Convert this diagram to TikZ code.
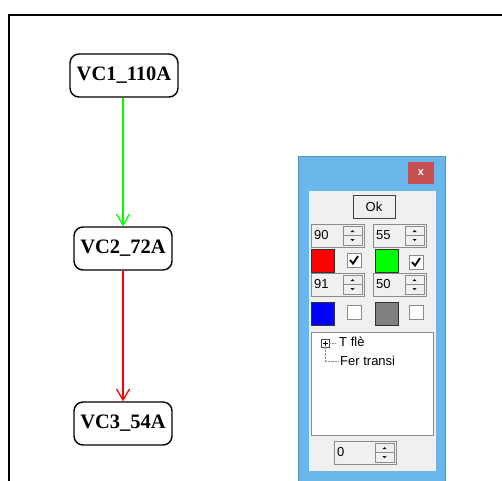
\documentclass[tikz,border=0pt]{standalone}
\usepackage{fontspec}
\usepackage{tikz}
\usetikzlibrary{arrows.meta}
\setmainfont{Liberation Serif}
\newfontfamily\uifont{Liberation Sans}
\definecolor{panelblue}{RGB}{105, 183, 235}
\definecolor{closered}{RGB}{199, 80, 80}
\definecolor{panelgray}{RGB}{240, 240, 240}
\definecolor{edgegray}{RGB}{140, 140, 140}
\definecolor{puregreen}{RGB}{0, 255, 0}
\definecolor{purered}{RGB}{255, 0, 0}
\definecolor{pureblue}{RGB}{0, 0, 255}
\definecolor{midgray}{RGB}{128, 128, 128}

\begin{document}
\begin{tikzpicture}[x=1pt, y=-1pt,
	state/.style={draw, line width=1.4pt, rounded corners=9pt, minimum height=43pt, font=\fontsize{20.5}{24}\selectfont\bfseries},
	trans/.style={-{Straight Barb[length=11pt, width=13pt]}, line width=1.3pt},
	uitext/.style={font=\uifont\fontsize{13}{15}\selectfont, inner sep=0pt}]
	\useasboundingbox (0,0) rectangle (502,480);
	\draw[line width=2pt] (9,15) rectangle (530,510);

	% states
	\node[state, minimum width=108pt] (vc1) at (124,75.5) {VC1\_110A};
	\node[state, minimum width=98pt] (vc2) at (123,248.5) {VC2\_72A};
	\node[state, minimum width=98pt] (vc3) at (123,423.5) {VC3\_54A};
	\draw[trans, draw=puregreen] (vc2 |- vc1.south) -- (vc2.north);
	\draw[trans, draw=purered] (vc2) -- (vc3);

	% dialog
	\filldraw[fill=panelblue, draw=panelblue!80!black] (298,156) rectangle (445,490);
	\fill[closered] (408,162) rectangle (434,184);
	\node[font=\uifont\bfseries\fontsize{11}{12}\selectfont, text=white] (close) at (421,172.5) {x};
	\fill[panelgray] (309,191) rectangle (436,471);
	\filldraw[fill=panelgray, draw=black!75, line width=1pt] (353,195) rectangle (395,218);
	\node[uitext] (ok) at (374,206.5) {Ok};
	\foreach \x/\y/\w/\v in {311/224/53/90, 373/224/53/55, 311/273/53/91, 373/273/53/50, 334/441/62/0} {
		\filldraw[fill=panelgray, draw=edgegray, line width=1pt] (\x,\y) rectangle +(\w,23);
		\node[uitext, anchor=west] at (\x+3,\y+11.5) {\v};
		\draw[edgegray, fill=panelgray] (\x+\w-21,\y+2) rectangle (\x+\w-2,\y+11.5);
		\draw[edgegray, fill=panelgray] (\x+\w-21,\y+11.5) rectangle (\x+\w-2,\y+21);
		\fill (\x+\w-13.5,\y+8) -- (\x+\w-9.5,\y+8) -- (\x+\w-11.5,\y+6) -- cycle;
		\fill (\x+\w-13.5,\y+15) -- (\x+\w-9.5,\y+15) -- (\x+\w-11.5,\y+17) -- cycle;
	}
	\foreach \x/\y/\c in {311/249/purered, 375/249/puregreen, 311/302/pureblue, 375/302/midgray} {
		\filldraw[fill=\c, draw=black!80, line width=0.8pt] (\x,\y) rectangle +(23,23);
	}
	\foreach \x/\y/\m in {347/253/1, 409/255/1, 347/305/0, 409/305/0} {
		\filldraw[fill=white, draw=edgegray, line width=1pt] (\x,\y) rectangle +(14,14);
		\ifnum\m=1
			\draw[line width=1.8pt] (\x+3,\y+7) -- (\x+6,\y+10.5) -- (\x+11,\y+3);
		\fi
	}

	% tree list
	\filldraw[fill=white, draw=edgegray, line width=1pt] (311,332) rectangle (433,435);
	\draw[black!70, fill=white] (321,339) rectangle (329,347);
	\draw (322.5,343) -- (327.5,343) (325,340.5) -- (325,345.5);
	\draw[densely dotted, edgegray] (329,343) -- (336,343) (325,347) -- (325,361) -- (338,361);
	\node[uitext, anchor=west] (tfle) at (339,342) {T flè};
	\node[uitext, anchor=west] (fer) at (340,361) {Fer transi};
\end{tikzpicture}
\end{document}
